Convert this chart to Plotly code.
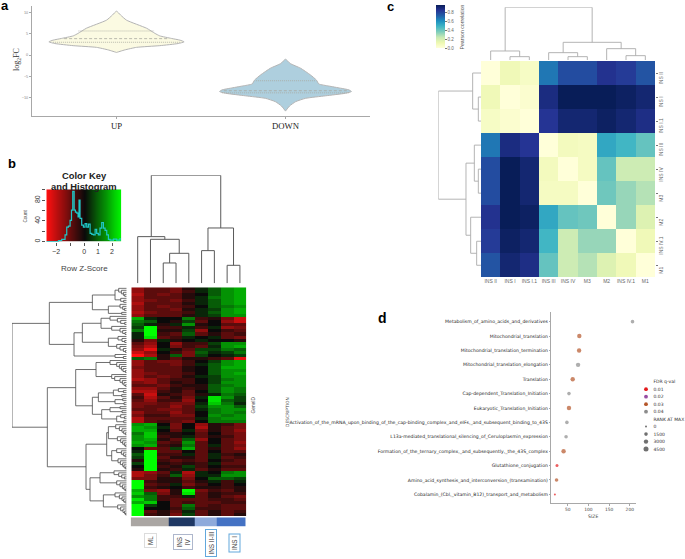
import plotly.graph_objects as go

W, H = 685, 559

# ---------- panel a data ----------
up_logfc = [10.3, 9.4, 8.2, 6.3, 5.1, 4.5, 3.9, 3.5, 3.1, 2.7, 2.2, 1.8, 1.2, 0.6]
up_width = [0, 0.024, 0.059, 0.178, 0.227, 0.256, 0.325, 0.375, 0.40, 0.365, 0.256, 0.118, 0.049, 0]
down_logfc = [-1.0, -2.0, -3.1, -4.7, -5.9, -6.8, -7.3, -7.8, -8.2, -8.6, -9.0, -9.6, -10.2, -11.0, -12.0, -13.2]
down_width = [0, 0.028, 0.089, 0.148, 0.183, 0.197, 0.256, 0.325, 0.375, 0.39, 0.355, 0.237, 0.118, 0.059, 0.024, 0]
up_quart = [5.65, 3.85, 3.0]
up_quart_w = [0.225, 0.31, 0.375]
down_quart = [-6.05, -8.4, -8.9]
down_quart_w = [0.175, 0.365, 0.375]
violin_labels = ["UP", "DOWN"]

# ---------- panel b data ----------
hist_z = [-2.7, -2.07, -1.83, -1.6, -1.36, -1.24, -1.12, -1.0, -0.9, -0.81, -0.71, -0.62, -0.52, -0.43, -0.36,
          -0.29, -0.17, -0.05, 0.07, 0.19, 0.31, 0.43, 0.55, 0.67, 0.79, 0.9, 1.02, 1.14, 1.26, 1.38, 1.5, 1.62,
          1.74, 1.86, 2.1, 2.33, 2.57]
hist_count = [0, 0, 2, 4.5, 13, 28, 30, 41, 61, 97, 61, 57, 55, 48, 80, 45, 32, 28, 35, 28, 34, 16, 14, 13, 24,
              16, 13, 26, 37, 26, 22, 13, 4.5, 3, 5, 3, 7]
key_levels = [-2.7, -2.1, -1.5, -0.9, -0.3, 0.0, 0.3, 0.9, 1.5, 2.1, 2.7]

expr_rows = [
    [-5,-3,-3,-4,-1,1,3,5,6], [-5,-3,-3,-4,-2,1,3,5,6], [-6,-3,-4,-3,-1,0,3,5,6], [-5,-3,-3,-3,-1,1,4,5,6],
    [-5,-4,-3,-4,-2,1,3,5,6], [-6,-3,-3,-3,-1,1,3,5,6], [-5,-3,-4,-3,-2,0,3,4,5], [-5,-3,-3,-4,-1,1,2,5,6],
    [-6,-4,-3,-3,-2,1,3,5,6], [-5,-3,-3,-3,-1,1,2,5,5],
    [6,1,0,0,4,-2,-1,-4,-7], [4,3,0,-1,2,-3,0,-5,-7], [3,1,-1,1,5,-1,0,-3,-3], [2,9,-2,-2,1,-2,1,-5,-4],
    [4,9,-1,-1,2,-5,0,-2,-3], [1,9,-2,-3,3,-3,-1,-3,-2], [1,8,-3,-2,1,0,1,-3,-4], [-1,-4,1,-1,0,1,0,0,-1],
    [-3,-5,0,-5,-2,-2,2,5,5], [-4,-6,0,-4,-2,-3,1,5,6], [-5,-8,1,-1,-3,2,2,4,3], [-7,-5,0,-2,-4,3,1,2,4],
    [-9,-6,-1,3,-4,2,0,1,2], [3,4,-1,-3,-1,-1,-2,-3,-8],
    [-5,-3,-4,-4,-2,0,2,5,6], [-5,-3,-3,-4,-2,1,3,5,6], [-4,-3,-3,-3,-1,0,3,6,6], [-5,-3,-3,-3,-1,0,3,5,5],
    [-5,-4,-3,-3,-2,0,3,5,6], [-5,-3,-4,-3,-1,1,2,5,5], [-6,-5,-3,-2,-2,0,2,4,5], [-4,-5,-3,-1,-2,0,2,5,5],
    [-3,-3,-4,-2,-1,-1,3,4,5], [-5,-5,-3,-1,-2,-1,3,5,4], [-6,-6,-2,-1,-3,0,3,5,4], [-3,-7,-1,-2,-3,-1,1,4,3],
    [-2,-6,-3,-1,-4,1,8,5,2], [-3,-5,-2,-2,-5,0,8,3,2], [-4,-4,-3,-4,-4,1,7,4,1], [-4,-3,-3,-5,-3,2,5,5,3],
    [-3,-3,-4,-4,-3,1,4,5,5], [-5,-3,-3,-5,-3,0,4,5,4], [-4,-2,-2,-4,-4,0,5,4,5], [-6,-3,-3,-3,-3,1,4,5,5],
    [-6,-3,-2,-3,-4,0,4,4,4],
    [5,6,0,-4,0,-5,-1,-2,-4], [6,5,1,-4,0,-6,-1,-3,-4], [6,6,0,-3,1,-4,-1,-3,-5], [4,7,-1,-1,0,-3,0,-3,-4],
    [5,7,-2,-1,1,-3,-1,-2,-4], [5,6,-1,-3,3,-5,0,-3,-4], [6,5,-3,-2,5,-3,0,-3,-5], [5,6,-2,-1,4,-3,1,-3,-4],
    [0,-4,-3,2,6,-3,-1,-3,-5], [1,9,-3,-3,0,-3,0,-3,-3], [3,9,-2,-2,1,-3,1,-2,-1], [2,9,-3,-1,-1,-3,1,-3,-2],
    [-1,9,-2,-3,-2,-3,0,-2,-3], [2,9,-1,-2,-1,-2,1,-3,-3], [0,9,-2,-1,2,-2,0,-2,-2], [-1,9,-1,-2,1,-3,-1,-3,-3],
    [-6,-5,-3,1,-6,1,0,4,5], [-6,-4,-2,3,-5,1,1,5,5], [-4,-4,-1,-1,-4,0,3,3,2],
    [9,-2,-1,-1,-3,-1,1,-2,1], [9,-3,-2,1,-4,-2,0,-2,0], [9,-2,-1,0,-2,-1,-1,-2,-1], [6,-4,-5,-1,9,-4,-2,-3,-1],
    [7,3,-4,-1,8,-3,-1,-2,-2], [5,4,-2,-2,1,-3,-1,-3,-4], [8,4,-2,-3,-3,-3,-2,-2,-3], [6,7,0,-3,-2,-3,-3,-2,-2],
    [9,2,0,-3,4,-3,-2,-3,-3], [9,0,0,-2,3,-2,-2,-3,-3], [9,-3,-1,-3,1,-3,-1,-3,-2], [9,-2,-1,-4,2,-3,-1,-3,-1],
]

# merges: (left, right, height); ints are leaf columns, ("m", k) refers to an earlier merge
b_col_merges = [(2, 3, 61), (("m", 0), 4, 90), (1, ("m", 1), 132), (0, ("m", 2), 140), (5, 6, 98), (7, 8, 54),
                (("m", 4), ("m", 5), 166), (("m", 3), ("m", 6), 324)]
c_col_merges = [(1, 2, 10), (0, ("m", 0), 27), (4, 5, 10), (3, ("m", 2), 22), (7, 8, 13), (6, ("m", 4), 34),
                (("m", 3), ("m", 5), 53), (("m", 1), ("m", 6), 158)]
c_row_merges = [(1, 2, 8), (0, ("m", 0), 25), (4, 5, 8), (3, ("m", 2), 20), (7, 8, 13), (6, ("m", 4), 31),
                (("m", 3), ("m", 5), 45), (("m", 1), ("m", 6), 128)]


def cat(hs):
    node = None
    for h in reversed(hs):
        node = (h, None, None) if node is None else (h, None, node)
    return node


row_tree = (344,
    (232,
        (103,
            (35, cat([24, 16, 10, 6]), cat([18, 9])),
            (55, cat([20, 12, 7]), cat([15]))),
        (158,
            (133,
                (77, cat([50, 28, 18, 6]), cat([45, 20, 12, 5])),
                (55, cat([26, 14, 6]), cat([30, 20, 10, 4]))),
            cat([35, 10]))),
    (238,
        (153,
            (92, cat([50, 30, 22, 16, 11, 4]), cat([45, 36, 20, 13, 8, 3])),
            (103,
                (85, (40, cat([25, 10]), cat([15])), (35, cat([12]), cat([8]))),
                (75, (50, cat([20]), cat([14])), (30, cat([18, 7]), cat([9]))))),
        (122,
            (60, (55, cat([33, 22, 14, 9, 4]), cat([28, 18, 12, 7, 3])),
                 (45, cat([30, 16, 10, 5]), cat([26, 19, 12, 8, 4]))),
            (110, (80, cat([38, 24, 15, 7]), cat([30, 20, 13, 8, 4])),
                  (70, cat([35, 22, 14, 9, 5]), cat([27, 18, 11, 6, 3]))))))

strip_edges = [0, 3, 5, 6.75, 9]
strip_groups = [0, 1, 2, 3]
strip_colors = ["#aaa6a3", "#1f3864", "#8eaadb", "#4472c4"]

# ---------- panel c data ----------
corr_labels = ["INS II", "INS I", "INS I.1", "INS III", "INS IV", "M3", "M2", "INS IV.1", "M1"]
corr = [
    [0.00, 0.10, 0.06, 0.66, 0.77, 0.77, 0.85, 0.82, 0.75],
    [0.10, 0.00, 0.03, 0.88, 0.96, 0.96, 0.96, 0.94, 0.91],
    [0.06, 0.03, 0.00, 0.84, 0.91, 0.91, 0.94, 0.91, 0.87],
    [0.66, 0.88, 0.84, 0.00, 0.08, 0.07, 0.53, 0.48, 0.41],
    [0.77, 0.96, 0.91, 0.08, 0.00, 0.07, 0.41, 0.22, 0.22],
    [0.77, 0.96, 0.91, 0.07, 0.07, 0.00, 0.39, 0.32, 0.27],
    [0.85, 0.96, 0.94, 0.53, 0.41, 0.39, 0.00, 0.32, 0.17],
    [0.82, 0.94, 0.91, 0.48, 0.22, 0.32, 0.32, 0.00, 0.10],
    [0.75, 0.91, 0.87, 0.41, 0.22, 0.27, 0.17, 0.10, 0.00],
]
ylgnbu = ["#ffffd9", "#edf8b1", "#c7e9b4", "#7fcdbb", "#41b6c4", "#1d91c0", "#225ea8", "#253494", "#081d58"]

# ---------- panel d data ----------
pathways = [
    "Metabolism_of_amino_acids_and_derivatives",
    "Mitochondrial_translation",
    "Mitochondrial_translation_termination",
    "Mitochondrial_translation_elongation",
    "Translation",
    "Cap-dependent_Translation_Initiation",
    "Eukaryotic_Translation_Initiation",
    "Activation_of_the_mRNA_upon_binding_of_the_cap-binding_complex_and_eIFs,_and_subsequent_binding_to_43S",
    "L13a-mediated_translational_silencing_of_Ceruloplasmin_expression",
    "Formation_of_the_ternary_complex,_and_subsequently,_the_43S_complex",
    "Glutathione_conjugation",
    "Amino_acid_synthesis_and_interconversion_(transamination)",
    "Cobalamin_(Cbl,_vitamin_B12)_transport_and_metabolism",
]
path_size = [206.6, 78, 77.5, 75, 62, 53, 53, 48, 46, 40, 24, 23, 19]
path_fdr = ["0.04", "0.03", "0.03", "0.04", "0.03", "0.04", "0.03", "0.04", "0.04", "0.03", "0.01", "0.03", "0.01"]
path_rank = [1500, 3000, 3000, 3000, 3000, 1500, 3000, 1500, 1500, 3000, 750, 1500, 0]
fdr_color = {"0.01": "#e41a1c", "0.02": "#984ea3", "0.03": "#b5562a", "0.04": "#8c8c8c"}
rank_marker = {0: 2, 750: 3, 1500: 3.6, 3000: 4.4, 4500: 5}
legend_fdr = ["0.01", "0.02", "0.03", "0.04"]
legend_rank = [0, 1500, 3000, 4500]

# ---------- helpers ----------
def dx(a, b):
    return [a / W, b / W]


def dy(top, bottom):
    return [1 - bottom / H, 1 - top / H]


def hidden(**kw):
    d = dict(visible=False, fixedrange=True)
    d.update(kw)
    return d


def merge_segments(merges, flip=False):
    pos = []
    xs, ys = [], []
    h_prev = []
    def get(n):
        if isinstance(n, tuple):
            return pos[n[1]], h_prev[n[1]]
        return n, 0
    for a, b, h in merges:
        pa, ha = get(a)
        pb, hb = get(b)
        xs += [pa, pa, pb, pb, None]
        ys += [ha, h, h, hb, None]
        pos.append((pa + pb) / 2)
        h_prev.append(h)
    return (ys, xs) if flip else (xs, ys)


def tree_segments(tree):
    xs, ys = [], []
    count = [0]
    def walk(n):
        if n is None:
            p = count[0]
            count[0] += 1
            return p, 0
        h, l, r = n
        pl, hl = walk(l)
        pr, hr = walk(r)
        xs.extend([hl, h, h, hr, None])
        ys.extend([pl, pl, pr, pr, None])
        return (pl + pr) / 2, h
    walk(tree)
    return xs, ys, count[0]


fig = go.Figure()
SANS = "Liberation Sans"
SERIF = "Liberation Serif"
DJ = "DejaVu Sans"
VGRAY = "#b4b4b4"


def violin(pos, ys, ws, fill, qs, qw):
    xs = [pos - w for w in ws] + [pos + w for w in reversed(ws)]
    yy = list(ys) + list(reversed(ys))
    fig.add_trace(go.Scatter(x=xs, y=yy, mode="lines", fill="toself", fillcolor=fill,
                             line=dict(color=VGRAY, width=1, shape="spline", smoothing=0.5), xaxis="x", yaxis="y"))
    for i, (q, w) in enumerate(zip(qs, qw)):
        fig.add_trace(go.Scatter(x=[pos - w, pos + w], y=[q, q], mode="lines",
                                 line=dict(color="#a8a8a0", width=0.8, dash="3px,2px" if i == 1 else "1px,1px"),
                                 xaxis="x", yaxis="y"))


violin(0, up_logfc, up_width, "#fbfae2", up_quart, up_quart_w)
violin(1, down_logfc, down_width, "#aecfde", down_quart, down_quart_w)

RG = [[0, "#ff1010"], [0.5, "#0a0a0a"], [1, "#00ff00"]]
fig.add_trace(go.Heatmap(x=key_levels, y=[0, 101], z=[key_levels, key_levels], colorscale=RG, zmin=-2.7, zmax=2.7,
                         zsmooth="best", showscale=False, xaxis="x2", yaxis="y2"))
fig.add_trace(go.Scatter(x=hist_z, y=hist_count, mode="lines", line=dict(color="#20c8c8", width=1.2, shape="hv"),
                         xaxis="x2", yaxis="y2"))

xs, ys = merge_segments(b_col_merges)
fig.add_trace(go.Scatter(x=xs, y=ys, mode="lines", line=dict(color="#5a5a5a", width=1), cliponaxis=False,
                         xaxis="x3", yaxis="y3"))
rx, ry, n_leaves = tree_segments(row_tree)
fig.add_trace(go.Scatter(x=rx, y=ry, mode="lines", line=dict(color="#4a4a4a", width=0.8), cliponaxis=False,
                         xaxis="x4", yaxis="y4"))
fig.add_trace(go.Heatmap(z=expr_rows, colorscale=RG, zmin=-9, zmax=9, showscale=False, xaxis="x5", yaxis="y5"))
fig.add_trace(go.Heatmap(x=strip_edges, y=[0, 1], z=[strip_groups], zmin=0, zmax=3, showscale=False,
                         colorscale=[[0, strip_colors[0]], [0.33, strip_colors[0]], [0.33, strip_colors[1]],
                                     [0.66, strip_colors[1]], [0.66, strip_colors[2]], [0.9, strip_colors[2]],
                                     [0.9, strip_colors[3]], [1, strip_colors[3]]],
                         xaxis="x6", yaxis="y6"))

fig.add_trace(go.Heatmap(z=corr, x=list(range(9)), y=list(range(9)), zmin=0, zmax=0.96,
                         colorscale=[[i / 8, c] for i, c in enumerate(ylgnbu)],
                         colorbar=dict(thickness=9, len=43.3, lenmode="pixels", x=436 / W, xanchor="left",
                                       y=1 - 5 / H, yanchor="top", xpad=0, ypad=0, outlinewidth=0,
                                       tickvals=[0, 0.2, 0.4, 0.6, 0.8], ticktext=["0.0", "0.2", "0.4", "0.6", "0.8"],
                                       ticks="outside", ticklen=2, tickwidth=0.5, tickcolor="#777",
                                       tickfont=dict(size=4.5, color="#666", family=SANS)),
                         xaxis="x7", yaxis="y7"))
xs, ys = merge_segments(c_col_merges)
fig.add_trace(go.Scatter(x=xs, y=ys, mode="lines", line=dict(color="#ababab", width=0.9), cliponaxis=False,
                         xaxis="x8", yaxis="y8"))
xs, ys = merge_segments(c_row_merges, flip=True)
fig.add_trace(go.Scatter(x=xs, y=ys, mode="lines", line=dict(color="#ababab", width=0.9), cliponaxis=False,
                         xaxis="x9", yaxis="y9"))

fig.add_trace(go.Scatter(x=path_size, y=list(range(len(pathways))), mode="markers",
                         marker=dict(color=[fdr_color[f] for f in path_fdr],
                                     size=[rank_marker[r] for r in path_rank], line=dict(width=0)),
                         xaxis="x10", yaxis="y10"))

legend_rows = ["FDR q-val"] + legend_fdr + ["RANK AT MAX"] + [str(r) for r in legend_rank]
fig.add_trace(go.Scatter(x=[0] * 4, y=legend_fdr, mode="markers",
                         marker=dict(color=[fdr_color[f] for f in legend_fdr], size=3.8, line=dict(width=0)),
                         xaxis="x11", yaxis="y11"))
fig.add_trace(go.Scatter(x=[0] * 4, y=[str(r) for r in legend_rank], mode="markers",
                         marker=dict(color="#333333", size=[rank_marker[r] for r in legend_rank], line=dict(width=0)),
                         xaxis="x11", yaxis="y11"))

ann = []


def T(x, y, text, size, color="#333", angle=0, bold=False, family=SANS, anchor="center", pad=0, **kw):
    ann.append(dict(x=x / W, y=1 - y / H, xref="paper", yref="paper", text=f"<b>{text}</b>" if bold else text,
                    showarrow=False, xanchor=anchor, yanchor="middle", textangle=angle,
                    font=dict(size=size, color=color, family=family), borderpad=pad, **kw))


T(4.5, 6, "a", 13, "#000", bold=True)
T(12, 163, "b", 13, "#000", bold=True)
T(390.5, 7, "c", 13, "#000", bold=True)
T(382, 318, "d", 14, "#000", bold=True)
T(17, 60, "log<sub>2</sub>FC", 8, "#333", angle=-90, family=SERIF)
T(84, 175.5, "Color Key", 9.4, "#222", bold=True)
T(84, 186.5, "and Histogram", 9.4, "#222", bold=True)
T(25, 215.5, "Count", 4.6, "#444", angle=-90)
T(84, 268, "Row Z-Score", 8, "#444")
T(252.5, 405, "GeneID", 4.8, "#444", angle=-90)
T(150, 541, "ML", 6.3, "#444", angle=-90, pad=2, bordercolor="#dcdcdc", borderwidth=1)
T(183, 542, "INS<br>IV", 6.3, "#444", angle=-90, pad=1.5, bordercolor="#aeb7cc", borderwidth=1)
T(211, 543, "INS II-III", 6.3, "#444", angle=-90, pad=1.5, bordercolor="#62a8dc", borderwidth=1)
T(234.5, 543, "INS I", 6.3, "#444", angle=-90, pad=1.5, bordercolor="#62a8dc", borderwidth=1)
T(461.5, 27, "Pearson correlation", 5.2, "#555", angle=-90)
T(287, 412, "DESCRIPTION", 4.4, "#444", angle=-90, family=DJ)
T(593, 516, "SIZE", 4.6, "#444", family=DJ)
for i, lab in enumerate(corr_labels):
    ann.append(dict(x=8.5, y=i, xref="x7", yref="y7", text=lab, showarrow=False, xshift=6.5, yshift=-5, textangle=-90,
                    font=dict(size=5, color="#666", family=SANS), xanchor="center", yanchor="middle"))

AX = "#a8a8a8"
layout = dict(
    width=W, height=H, margin=dict(l=0, r=0, t=0, b=0), paper_bgcolor="white", plot_bgcolor="white",
    showlegend=False, annotations=ann,
    # a
    xaxis=dict(domain=dx(32, 370), range=[-0.5, 1.5], tickvals=[0, 1], ticktext=violin_labels, showgrid=False,
               zeroline=False, showline=True, linecolor=AX, linewidth=1, ticks="outside", ticklen=2, tickcolor=AX,
               tickfont=dict(family=SERIF, size=8.7, color="#222"), anchor="y"),
    yaxis=dict(domain=dy(6, 115.7), range=[-14.28, 11.53], tickvals=[-10, -5, 0, 5, 10], showgrid=False,
               tickformat="d", zeroline=False, showline=True, linecolor=AX, linewidth=1, ticks="outside", ticklen=2,
               tickcolor=AX, tickfont=dict(family=SANS, size=3.8, color="#888"), anchor="x"),
    # hist
    xaxis2=dict(domain=dx(46.3, 121.3), range=[-2.7, 2.66], tickvals=[-2, 0, 1, 2],
                ticktext=["\u22122", "0", "1", "2"], showgrid=False, zeroline=False, showline=False,
                minor=dict(tickvals=[-1], ticks="outside", ticklen=3, tickcolor="#555"),
                ticks="outside", ticklen=3, tickcolor="#555", tickfont=dict(family=SANS, size=7, color="#333"),
                anchor="y2"),
    yaxis2=dict(domain=dy(189.3, 241.7), range=[0, 101], tickvals=[0, 40, 80],
                ticktext=["0", "40", "80"], tickangle=-90, showgrid=False, zeroline=False,
                minor=dict(tickvals=[20, 60, 100], ticks="outside", ticklen=3, tickcolor="#555"),
                ticks="outside", ticklen=3, tickcolor="#555", tickfont=dict(family=SANS, size=7, color="#333"),
                anchor="x2"),
    # b dendrograms
    xaxis3=hidden(domain=dx(131.3, 246.3), range=[-0.5, 8.5], anchor="y3"),
    yaxis3=hidden(domain=dy(175.3, 283.3), range=[0, 324], anchor="x3"),
    xaxis4=hidden(domain=dx(12, 126.7), range=[344, 0], anchor="y4"),
    yaxis4=hidden(domain=dy(287.3, 516), range=[n_leaves - 0.5, -0.5], anchor="x4"),
    # b heatmap
    xaxis5=hidden(domain=dx(131.3, 246.3), range=[-0.5, 8.5], anchor="y5"),
    yaxis5=hidden(domain=dy(287.3, 516), range=[len(expr_rows) - 0.5, -0.5], anchor="x5"),
    xaxis6=hidden(domain=dx(130.7, 245.7), range=[0, 9], anchor="y6"),
    yaxis6=hidden(domain=dy(517.3, 526.7), range=[0, 1], anchor="x6"),
    # c
    xaxis7=dict(domain=dx(481, 655), range=[-0.5, 8.5], tickvals=list(range(9)), ticktext=corr_labels, showgrid=False,
                zeroline=False, ticks="", tickfont=dict(family=SANS, size=5, color="#666"), anchor="y7", tickangle=0),
    yaxis7=dict(domain=dy(61, 277.3), range=[8.5, -0.5], tickvals=list(range(9)), showticklabels=False, showgrid=False,
                zeroline=False, side="right", ticks="outside", ticklen=2, tickwidth=0.6, tickcolor="#777",
                anchor="x7"),
    xaxis8=hidden(domain=dx(481, 655), range=[-0.5, 8.5], anchor="y8"),
    yaxis8=hidden(domain=dy(7.3, 60), range=[0, 158], anchor="x8"),
    xaxis9=hidden(domain=dx(438.3, 481), range=[128, 0], anchor="y9"),
    yaxis9=hidden(domain=dy(61, 277.3), range=[8.5, -0.5], anchor="x9"),
    # d
    xaxis10=dict(domain=dx(551.3, 636), range=[10.3, 215], tickvals=[50, 100, 150, 200], showgrid=False,
                 zeroline=False, showline=True, linecolor=AX, linewidth=1, ticks="outside", ticklen=1.5,
                 tickcolor=AX, tickfont=dict(family=DJ, size=4.4, color="#444"), anchor="y10"),
    yaxis10=dict(domain=dy(312, 503.3), range=[12.62, -0.67], tickvals=list(range(13)), ticktext=pathways,
                 showgrid=False, zeroline=False, showline=True, linecolor=AX, linewidth=1, ticks="outside",
                 ticklen=1.5, tickcolor=AX, tickfont=dict(family=DJ, size=4.6, color="#222"), anchor="x10"),
    # d legend
    xaxis11=hidden(domain=dx(641, 652.5), range=[-1, 1.3], anchor="y11"),
    yaxis11=dict(domain=dy(378, 452.8), type="category", categoryorder="array", categoryarray=legend_rows,
                 range=[9.5, -0.5], tickvals=legend_rows, showgrid=False, zeroline=False, side="right", ticks="",
                 tickfont=dict(family=DJ, size=4.5, color="#333"), anchor="x11", fixedrange=True),
)
fig.update_layout(**layout)
fig.write_html("out.html", config={"displayModeBar": False},
               post_script="document.body.style.margin='0';document.body.style.overflow='hidden';")
